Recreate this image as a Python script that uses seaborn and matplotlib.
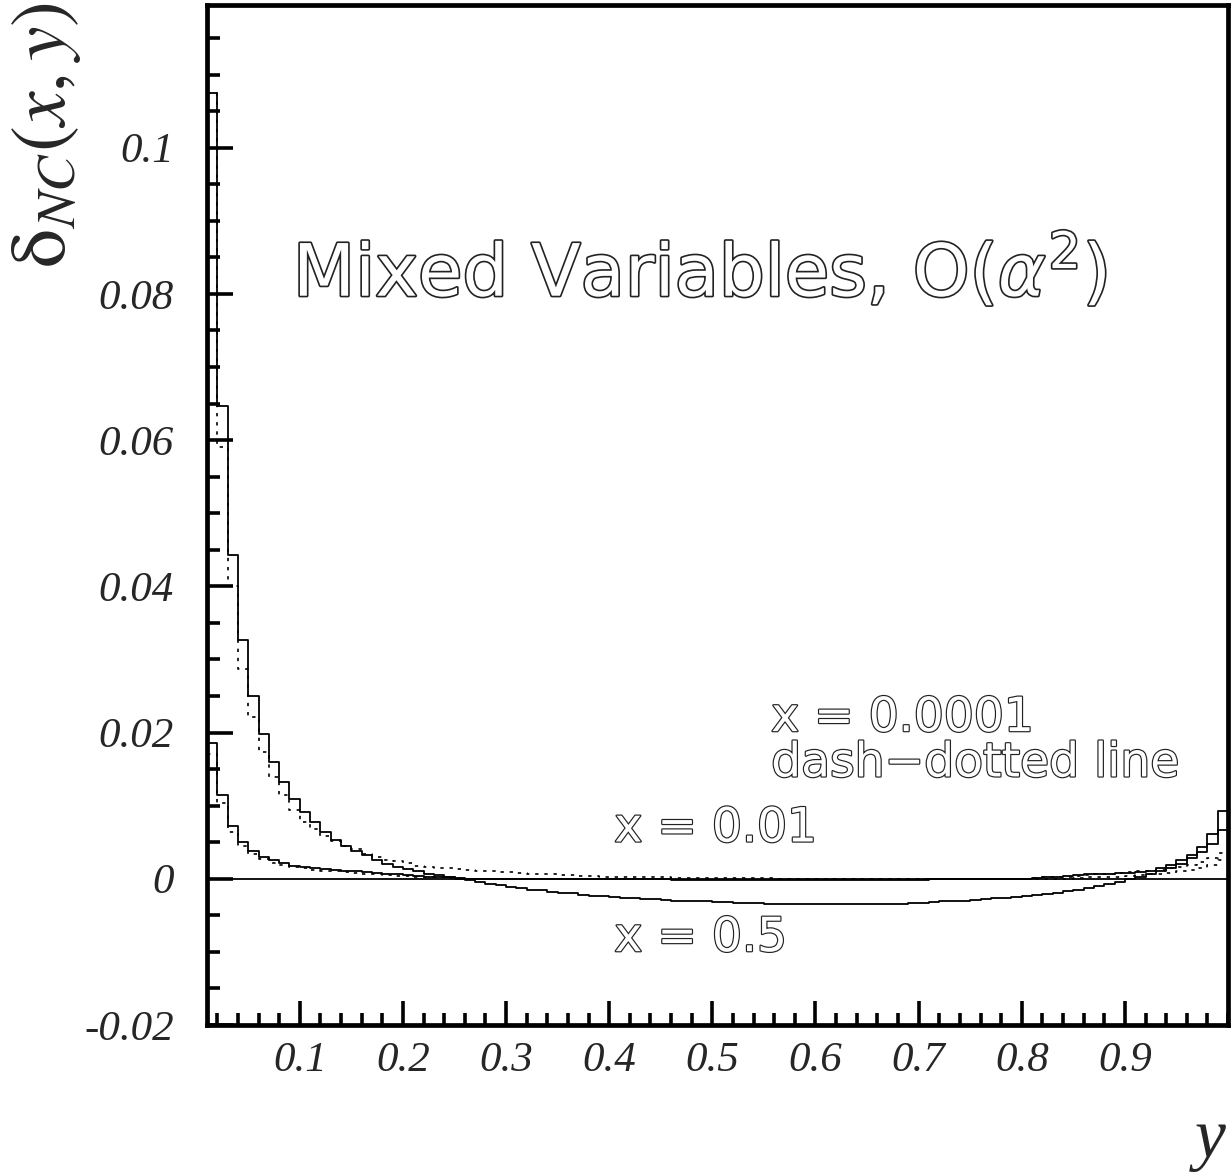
import numpy as np
import pandas as pd
import matplotlib
matplotlib.use("Agg")
import matplotlib.pyplot as plt
import matplotlib.patheffects as pe
from matplotlib.ticker import MultipleLocator
import seaborn as sns

# ---- data: radiative correction per y-bin (bin width 0.01, y from 0.01 to 1.0) ----
y_edges = np.round(np.linspace(0.01, 1.00, 100), 4)

series_a = [
    0.1075, 0.0646, 0.0443, 0.0327, 0.0250, 0.0198, 0.0160, 0.0132, 0.0109, 0.0091,
    0.0077, 0.0064, 0.0053, 0.0045, 0.0038, 0.0032, 0.0026, 0.0020, 0.0016, 0.0013,
    0.0010, 0.0007, 0.0005, 0.0002, 0.0000, -0.0002, -0.0005, -0.0007, -0.0009, -0.0011,
    -0.0013, -0.0015, -0.0016, -0.0018, -0.0019, -0.0020, -0.0022, -0.0023, -0.0024, -0.0025,
    -0.0026, -0.0027, -0.0028, -0.0028, -0.0029, -0.0030, -0.0030, -0.0031, -0.0031, -0.0032,
    -0.0032, -0.0033, -0.0033, -0.0033, -0.0034, -0.0034, -0.0034, -0.0034, -0.0035, -0.0035,
    -0.0035, -0.0035, -0.0035, -0.0035, -0.0035, -0.0034, -0.0034, -0.0034, -0.0033, -0.0033,
    -0.0032, -0.0031, -0.0031, -0.0030, -0.0029, -0.0028, -0.0027, -0.0026, -0.0025, -0.0024,
    -0.0022, -0.0021, -0.0019, -0.0017, -0.0015, -0.0012, -0.0010, -0.0007, -0.0004, -0.0001,
    0.0002, 0.0006, 0.0010, 0.0015, 0.0020, 0.0028, 0.0036, 0.0048, 0.0066,
]

series_a_dd = [
    0.1075, 0.0590, 0.0400, 0.0287, 0.0221, 0.0173, 0.0139, 0.0114, 0.0094, 0.0078,
    0.0068, 0.0059, 0.0052, 0.0045, 0.0040, 0.0034, 0.0030, 0.0026, 0.0024, 0.0021,
    0.0018, 0.0016, 0.0015, 0.0014, 0.0013, 0.0012, 0.0011, 0.0010, 0.0009, 0.0009,
    0.0008, 0.0007, 0.0006, 0.0006, 0.0005, 0.0005, 0.0004, 0.0004, 0.0003, 0.0003,
    0.0002, 0.0002, 0.0002, 0.0002, 0.0002, 0.0001, 0.0001, 0.0001, 0.0001, 0.0001,
    0.0001, 0.0001, 0.0001, 0.0001, 0.0001, 0.0000, 0.0000, 0.0000, 0.0000, 0.0000,
    0.0000, 0.0000, 0.0000, 0.0000, 0.0000, 0.0000, 0.0000, 0.0000, 0.0000, 0.0000,
    0.0000, 0.0000, 0.0000, 0.0000, 0.0000, 0.0000, 0.0000, 0.0000, 0.0000, 0.0000,
    0.0001, 0.0002, 0.0002, 0.0003, 0.0004, 0.0005, 0.0006, 0.0007, 0.0008, 0.0009,
    0.0010, 0.0011, 0.0012, 0.0014, 0.0016, 0.0019, 0.0023, 0.0028, 0.0035,
]

series_b = [
    0.0186, 0.0114, 0.0072, 0.0050, 0.0038, 0.0030, 0.0025, 0.0021, 0.0018, 0.0016,
    0.0014, 0.0013, 0.0012, 0.0011, 0.0010, 0.0009, 0.0008, 0.0007, 0.0006, 0.0005,
    0.0004, 0.0003, 0.0003, 0.0002, 0.0001, 0.0000, 0.0000, 0.0000, 0.0000, -0.0001,
    -0.0001, -0.0001, -0.0001, -0.0001, -0.0001, -0.0001, -0.0001, -0.0001, -0.0001, -0.0001,
    -0.0001, -0.0001, -0.0001, -0.0001, -0.0001, -0.0002, -0.0002, -0.0002, -0.0002, -0.0002,
    -0.0002, -0.0002, -0.0002, -0.0002, -0.0002, -0.0002, -0.0002, -0.0002, -0.0002, -0.0002,
    -0.0002, -0.0002, -0.0002, -0.0002, -0.0002, -0.0002, -0.0002, -0.0002, -0.0002, -0.0002,
    -0.0001, -0.0001, -0.0001, -0.0001, -0.0001, -0.0001, 0.0000, 0.0000, 0.0000, 0.0000,
    0.0001, 0.0002, 0.0003, 0.0004, 0.0005, 0.0006, 0.0007, 0.0007, 0.0008, 0.0008,
    0.0009, 0.0011, 0.0015, 0.0019, 0.0025, 0.0032, 0.0043, 0.0061, 0.0092,
]

series_b_dd = [
    0.0171, 0.0104, 0.0064, 0.0045, 0.0034, 0.0027, 0.0022, 0.0019, 0.0016, 0.0014,
    0.0012, 0.0011, 0.0010, 0.0009, 0.0008, 0.0007, 0.0006, 0.0005, 0.0004, 0.0004,
    0.0003, 0.0002, 0.0002, 0.0001, 0.0001, 0.0000, 0.0000, 0.0000, 0.0000, 0.0000,
    0.0000, 0.0000, 0.0000, 0.0000, 0.0000, 0.0000, 0.0000, 0.0000, 0.0000, 0.0000,
    0.0000, 0.0000, 0.0000, 0.0000, 0.0000, 0.0000, 0.0000, 0.0000, 0.0000, 0.0000,
    0.0000, 0.0000, 0.0000, 0.0000, 0.0000, 0.0000, 0.0000, 0.0000, 0.0000, 0.0000,
    0.0000, 0.0000, 0.0000, 0.0000, 0.0000, 0.0000, 0.0000, 0.0000, 0.0000, 0.0000,
    0.0000, 0.0000, 0.0000, 0.0000, 0.0000, 0.0000, 0.0000, 0.0000, 0.0000, 0.0000,
    0.0000, 0.0000, 0.0000, 0.0000, 0.0001, 0.0002, 0.0002, 0.0003, 0.0003, 0.0004,
    0.0005, 0.0006, 0.0007, 0.0008, 0.0010, 0.0012, 0.0015, 0.0019, 0.0025,
]

x_ticks = [0.1, 0.2, 0.3, 0.4, 0.5, 0.6, 0.7, 0.8, 0.9]
x_tick_labels = ["0.1", "0.2", "0.3", "0.4", "0.5", "0.6", "0.7", "0.8", "0.9"]
y_ticks = [-0.02, 0.0, 0.02, 0.04, 0.06, 0.08, 0.10]
y_tick_labels = ["-0.02", "0", "0.02", "0.04", "0.06", "0.08", "0.1"]

title_text = r"Mixed Variables, O($\alpha^2$)"
curve_labels = ["x = 0.0001", "dash\u2212dotted line", "x = 0.01", "x = 0.5"]

# ---- style ----
sns.set_style("white")
plt.rcParams["font.family"] = ["DejaVu Sans"]
plt.rcParams["mathtext.fontset"] = "stix"

fig = plt.figure(figsize=(12.32, 11.75), dpi=100)
ax = fig.add_axes([0.168, 0.1277, 0.8288, 0.868])

centers = (y_edges[:-1] + y_edges[1:]) / 2
frames = {
    "a": pd.DataFrame({"y": centers, "delta": series_a}),
    "b": pd.DataFrame({"y": centers, "delta": series_b}),
    "a_dd": pd.DataFrame({"y": centers, "delta": series_a_dd}),
    "b_dd": pd.DataFrame({"y": centers, "delta": series_b_dd}),
}
styles = {
    "a": dict(linewidth=1.3, linestyle="-"),
    "b": dict(linewidth=1.3, linestyle="-"),
    "a_dd": dict(linewidth=1.2, linestyle=(0, (2.0, 3.5))),
    "b_dd": dict(linewidth=1.2, linestyle=(0, (2.0, 3.5))),
}
for key, df in frames.items():
    sns.histplot(data=df, x="y", weights="delta", bins=list(y_edges), element="step",
                 fill=False, stat="count", color="black", ax=ax, **styles[key])
ax.axhline(0.0, color="black", linewidth=1.3)

ax.set_xlim(0.01, 1.0)
ax.set_ylim(-0.02, 0.1195)
ax.set_xlabel("")
ax.set_ylabel("")

ax.set_xticks(x_ticks, x_tick_labels)
ax.set_yticks(y_ticks, y_tick_labels)
ax.xaxis.set_minor_locator(MultipleLocator(0.02))
ax.yaxis.set_minor_locator(MultipleLocator(0.005))

for lab in ax.get_xticklabels() + ax.get_yticklabels():
    lab.set_fontfamily("Liberation Serif")
    lab.set_fontstyle("italic")
    lab.set_fontsize(31)

ax.tick_params(axis="both", which="both", direction="in", bottom=True, left=True,
               top=False, right=False, color="black", width=2.6)
ax.tick_params(axis="x", which="major", length=17, pad=12)
ax.tick_params(axis="x", which="minor", length=9)
ax.tick_params(axis="y", which="major", length=19, pad=24)
ax.tick_params(axis="y", which="minor", length=9.5)

for sp in ax.spines.values():
    sp.set_visible(True)
    sp.set_color("black")
    sp.set_linewidth(3.4)

# ---- annotations ----
outline = [pe.withStroke(linewidth=2.4, foreground="#222222")]
ax.text(0.488, 0.0831, title_text, ha="center", va="center", fontsize=52,
        color="white", family="DejaVu Sans", math_fontfamily="dejavusans",
        path_effects=outline)

lab_kw = dict(ha="left", va="center", fontsize=34, color="white",
              family="DejaVu Sans",
              path_effects=[pe.withStroke(linewidth=1.7, foreground="#222222")])
ax.text(0.557, 0.0219, curve_labels[0], **lab_kw)
ax.text(0.557, 0.0157, curve_labels[1], **lab_kw)
ax.text(0.405, 0.0068, curve_labels[2], **lab_kw)
ax.text(0.405, -0.0082, curve_labels[3], **lab_kw)

# axis titles
fig.text(0.0365, 0.885, r"$\mathrm{\delta}_{NC}(x,y)$", rotation=90,
         ha="center", va="center", fontsize=56)
fig.text(0.982, 0.030, "y", ha="center", va="center", fontsize=50,
         family="Liberation Serif", style="italic")

fig.savefig("out.png", dpi=100)
